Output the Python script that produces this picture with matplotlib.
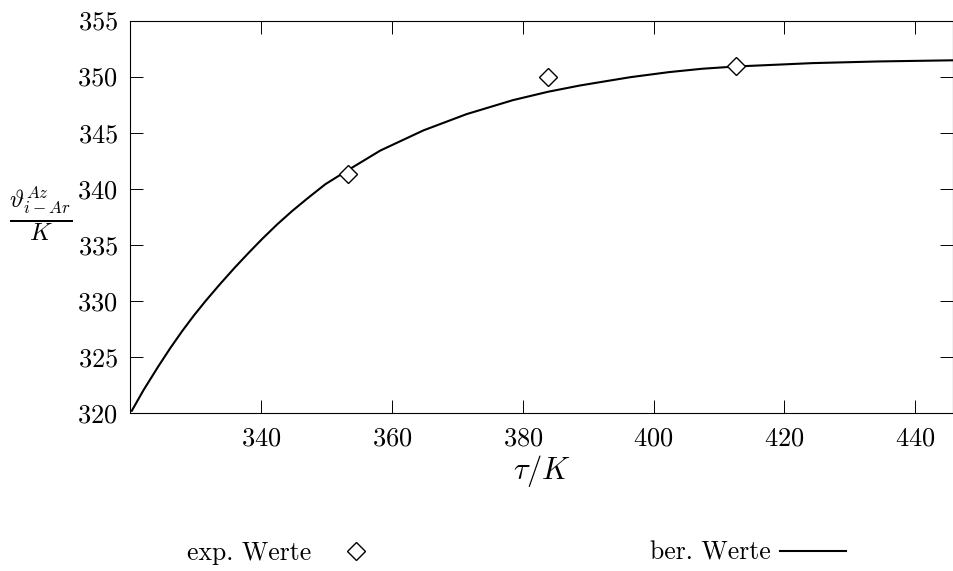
import matplotlib
matplotlib.use('Agg')
import matplotlib.pyplot as plt

# Schrift wie LaTeX (Computer Modern)
plt.rcParams['font.family'] = 'serif'
plt.rcParams['font.serif'] = ['cmr10']
plt.rcParams['mathtext.fontset'] = 'cm'
plt.rcParams['axes.formatter.use_mathtext'] = True

# berechnete Werte (Kurve)
tau_ber = [320.2, 322.0, 324.3, 326.1, 327.9, 329.7, 331.5, 333.7, 336.0, 338.1,
           340.1, 342.4, 344.7, 347.2, 349.8, 353.1, 358.2, 364.8, 371.4, 378.5,
           383.9, 388.7, 391.8, 396.5, 402.4, 407.5, 412.6, 418.5, 424.3, 434.5, 445.7]
theta_ber = [320.2, 322.05, 324.2, 325.8, 327.3, 328.7, 330.0, 331.5, 333.0, 334.3,
             335.5, 336.8, 338.0, 339.2, 340.4, 341.6, 343.4, 345.2, 346.65, 347.9,
             348.65, 349.2, 349.5, 349.95, 350.4, 350.7, 350.9, 351.05, 351.2, 351.35, 351.45]

# experimentelle Werte
tau_exp = [353.2, 383.9, 412.6]
theta_exp = [341.3, 350.0, 350.95]

x_ticks = [340, 360, 380, 400, 420, 440]
y_ticks = [320, 325, 330, 335, 340, 345, 350, 355]

fig = plt.figure(figsize=(9.54, 5.71), dpi=100)
ax = fig.add_axes([130.5 / 954, 158 / 571, 822.5 / 954, 392.5 / 571])

linie, = ax.plot(tau_ber, theta_ber, color='black', lw=1.5)
punkte, = ax.plot(tau_exp, theta_exp, ls='none', marker='D', ms=9, mfc='white',
                  mec='black', mew=1.0)

ax.set_xlim(320.0, 445.8)
ax.set_ylim(320, 355)
ax.set_xticks(x_ticks)
ax.set_yticks(y_ticks)
ax.tick_params(axis='both', direction='in', top=True, right=True, length=9.5,
               width=0.7, labelsize=19)
ax.tick_params(axis='x', pad=10)
ax.tick_params(axis='y', pad=9)
for s in ax.spines.values():
    s.set_linewidth(0.8)

ax.set_xlabel(r'$\tau/K$', fontsize=22, labelpad=2)
ax.set_ylabel(r'$\frac{\vartheta^{Az}_{i-Ar}}{K}$', fontsize=25, rotation=0,
              va='center', ha='center')
ax.yaxis.set_label_coords(-0.1088, 0.507)

# Legende: zwei Einträge, Text links vom Symbol
fig.legend(handles=[punkte], labels=['exp. Werte'], loc='center left',
           bbox_to_anchor=(187 / 954, 1 - 553 / 571), frameon=False,
           markerfirst=False, fontsize=18.5, borderpad=0, borderaxespad=0,
           handlelength=1.9, handletextpad=0.8)
fig.legend(handles=[linie], labels=['ber. Werte'], loc='center left',
           bbox_to_anchor=(650 / 954, 1 - 553 / 571), frameon=False,
           markerfirst=False, fontsize=18.5, borderpad=0, borderaxespad=0,
           handlelength=2.57, handletextpad=0.35)

fig.savefig('out.png', dpi=100)
